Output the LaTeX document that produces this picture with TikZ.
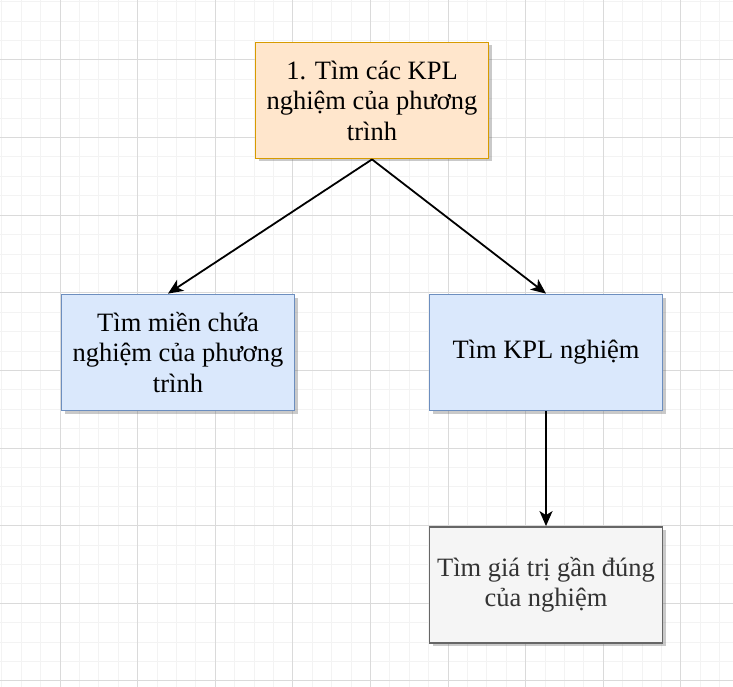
\documentclass[tikz,border=0pt]{standalone}
\usepackage{fontspec}
\setmainfont{Liberation Serif}
\usetikzlibrary{positioning,shadows,arrows.meta}
\definecolor{orangefill}{HTML}{FFE6CC}
\definecolor{orangeline}{HTML}{D79B00}
\definecolor{bluefill}{HTML}{DAE8FC}
\definecolor{blueline}{HTML}{6C8EBF}
\definecolor{grayfill}{HTML}{F5F5F5}
\definecolor{grayline}{HTML}{666666}
\definecolor{graytext}{HTML}{333333}
\definecolor{minorgrid}{HTML}{F3F3F3}
\definecolor{majorgrid}{HTML}{DADADA}
\tikzset{
  stepbox/.style={rectangle,draw,line width=1.8pt,minimum width=233pt,minimum height=116pt,
    align=center,font=\fontsize{26.5}{30.5}\selectfont,
    drop shadow={shadow xshift=3pt,shadow yshift=-3pt,opacity=0.35,fill=black!60}},
  arr/.style={line width=1.8pt,-{Stealth[length=15pt,width=13pt,inset=4pt]}}
}
\begin{document}
\begin{tikzpicture}[x=1pt,y=-1pt]
  \useasboundingbox (0,0) rectangle (733,687);
  \fill[white] (0,0) rectangle (733,687);
  % Grid
  \foreach \i in {0,...,37} {
    \draw[minorgrid,line width=1pt] (1.8+19.4*\i,0) -- (1.8+19.4*\i,687);
    \draw[minorgrid,line width=1pt] (0,1.8+19.4*\i) -- (733,1.8+19.4*\i);
  }
  \foreach \i in {0,...,8} {
    \draw[majorgrid,line width=1pt] (60+77.6*\i,0) -- (60+77.6*\i,687);
    \draw[majorgrid,line width=1pt] (0,60+77.6*\i) -- (733,60+77.6*\i);
  }
  % Boxes
  \node (top) [stepbox,fill=orangefill,draw=orangeline] at (372,100.5)
    {1. Tìm các KPL\\nghiệm của phương\\trình};
  \node (mien) [stepbox,fill=bluefill,draw=blueline,below of=top,node distance=252pt,xshift=-194pt]
    {Tìm miền chứa\\nghiệm của phương\\trình};
  \node (kpl) [stepbox,fill=bluefill,draw=blueline,below of=top,node distance=252pt,xshift=174pt]
    {Tìm KPL nghiệm};
  \node (gan) [stepbox,fill=grayfill,draw=grayline,text=graytext,below of=kpl,node distance=232.5pt]
    {Tìm giá trị gần đúng\\của nghiệm};
  % Arrows
  \draw[arr] (top.south) -- ([xshift=-10pt]mien.north);
  \draw[arr] (top.south) -- (kpl.north);
  \draw[arr] (kpl.south) -- (gan.north);
\end{tikzpicture}
\end{document}
